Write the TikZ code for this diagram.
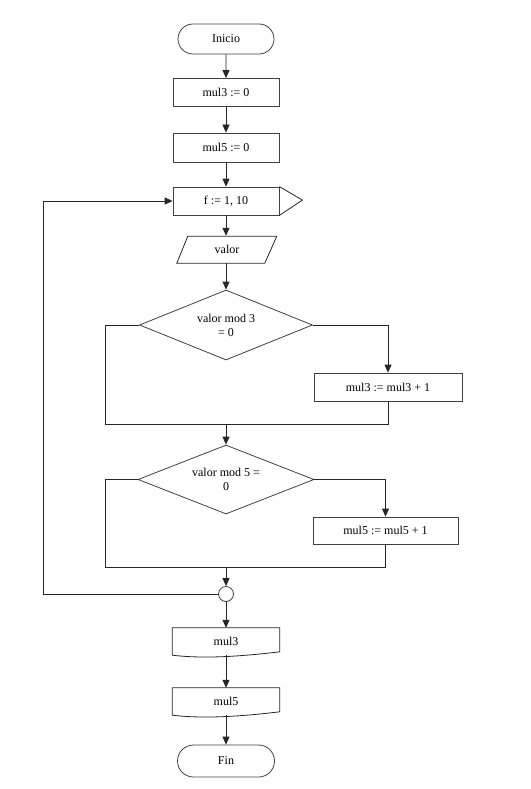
\documentclass[tikz,border=0pt]{standalone}
\usepackage{fontspec}
\setmainfont{Liberation Serif}
\usetikzlibrary{positioning}
\usetikzlibrary{shapes.geometric}
\usetikzlibrary{shapes.misc}
\usetikzlibrary{arrows.meta}
\begin{document}
\begin{tikzpicture}[x=1pt, y=-1pt,
  font=\fontsize{12}{14}\selectfont,
  caja/.style={draw=black!75, line width=0.8pt, rectangle, inner sep=0pt, minimum width=106pt, minimum height=28pt},
  extremo/.style={draw=black!75, line width=0.8pt, rounded rectangle, inner sep=0pt, minimum width=96pt, minimum height=30pt},
  decision/.style={draw=black!75, line width=0.8pt, diamond, aspect=2.5, inner sep=0pt, align=center},
  hoja/.style={rectangle, inner sep=0pt, minimum width=107pt, minimum height=27pt},
  linea/.style={draw=black!85, line width=0.8pt},
  flecha/.style={linea, -{Triangle[length=8pt, width=7pt]}}]

\useasboundingbox (0,0) rectangle (530,789);

% main column
{
\node[extremo] (inicio) at (226,39) {Inicio};
\node[caja] (m3cero) at (226,92.5) {mul3 := 0};
\node[caja, minimum height=29pt] (m5cero) at (226,147.5) {mul5 := 0};
\node[caja] (bucle) at (226,201) {f := 1, 10};
\draw[linea] (bucle.north east)--++(23,13.5)--(bucle.south east);
\node[hoja, minimum width=89pt] (valor) at (227,249.5) {valor};
\draw[linea] (valor.south west)++(-5.5,0)--++(88,0)--++(12,-27)--++(-89,0)--cycle;
}

% conditions
{
\node[decision, minimum width=173pt, minimum height=70pt] (cond3) at (226,325) {valor mod 3\\= 0};
\node[caja, minimum width=148pt] (suma3) at (388,387) {mul3 := mul3 + 1};
\coordinate (c3izq) at (105,424);
\coordinate (c3der) at (388,424);
\coordinate (j3) at (226,424);

\node[decision, minimum width=176pt, minimum height=69pt] (cond5) at (226,479.5) {valor mod 5 =\\0};
\node[caja, minimum width=145pt, minimum height=27pt] (suma5) at (385.5,530.5) {mul5 := mul5 + 1};
\coordinate (c5izq) at (105,567);
\coordinate (c5der) at (385.5,567);
\coordinate (j5) at (226,567);

\node[circle, draw=black!75, line width=0.8pt, minimum size=15pt, inner sep=0pt] (union) at (226,594) {};
\coordinate (vuelta) at (43,594);
}

% outputs
{
\node[hoja] (sal3) at (226,641.5) {mul3};
\draw[linea] (sal3.north west)--(sal3.north east)--++(0,24) .. controls +(-50,6) and +(25,3) .. (sal3.south west)--cycle;
\node[hoja] (sal5) at (226,701.5) {mul5};
\draw[linea] (sal5.north west)--(sal5.north east)--++(0,24) .. controls +(-50,6) and +(25,3) .. (sal5.south west)--cycle;
\node[extremo, minimum width=97pt, minimum height=32pt] (fin) at (226,761) {Fin};
}

% connectors
{
\draw[flecha] (inicio) -- (m3cero);
\draw[flecha] (m3cero) -- (m5cero);
\draw[flecha] (m5cero) -- (bucle);
\draw[flecha] (bucle.south) -- (bucle.south|-valor.north);
\draw[flecha] (valor.south-|cond3.north) -- (cond3.north);

\draw[flecha] (cond3.east) -| (suma3.north);
\draw[linea] (cond3.west) -| (c3izq) -- (c3der) -- (suma3.south);
\draw[flecha] (j3) -- (cond5.north);

\draw[flecha] (cond5.east) -| (suma5.north);
\draw[linea] (cond5.west) -| (c5izq) -- (c5der) -- (suma5.south);
\draw[flecha] (j5) -- (union.north);

\draw[flecha] (union.west) -- (vuelta) |- (bucle.west);
\draw[flecha] (union.south) -- (sal3.north);
\draw[flecha] (sal3.south) -- (sal5.north);
\draw[flecha] (sal5.south) -- (fin.north);
}

\end{tikzpicture}
\end{document}
